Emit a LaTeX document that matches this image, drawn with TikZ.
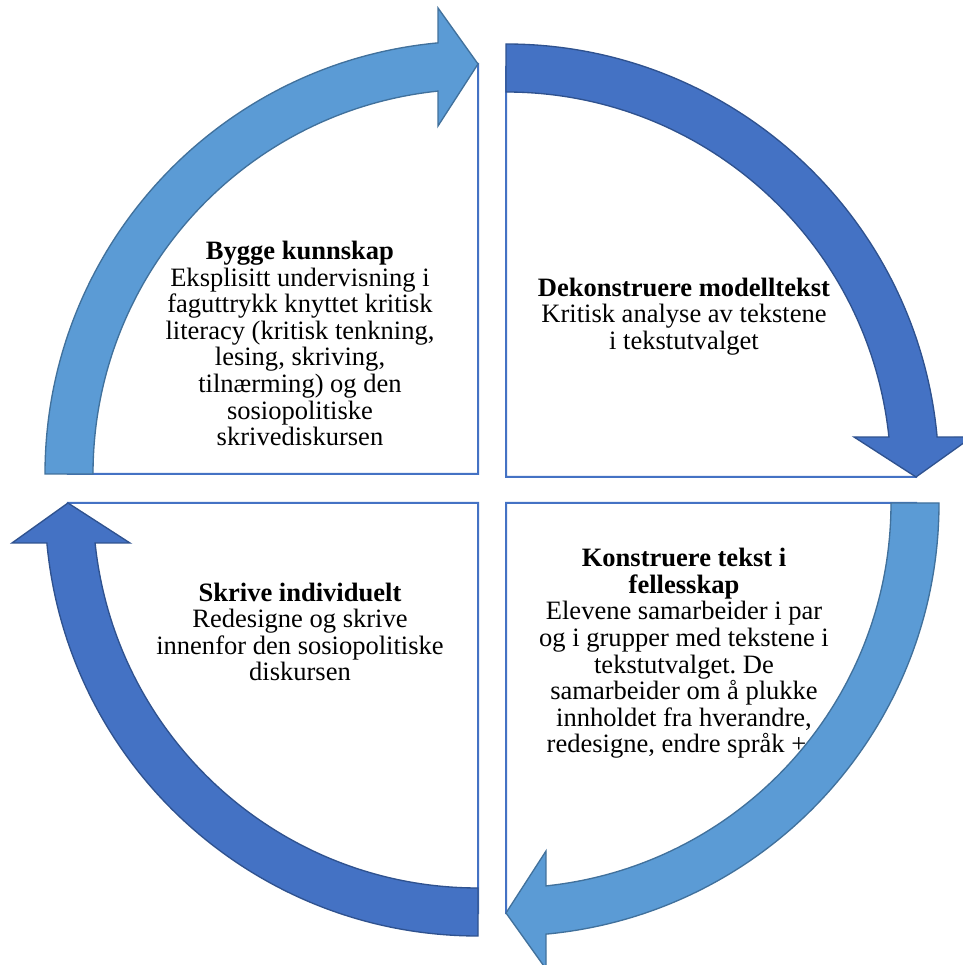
\documentclass[tikz,border=0pt]{standalone}
\usepackage{fontspec}
\setmainfont{Liberation Serif}
\frenchspacing
\definecolor{boxline}{RGB}{68,114,196}
\definecolor{lightfill}{RGB}{91,155,213}
\definecolor{lightedge}{RGB}{65,113,156}
\definecolor{darkfill}{RGB}{68,114,196}
\definecolor{darkedge}{RGB}{47,82,143}
\tikzset{
  piebox/.style={draw=boxline, line width=1.5pt, fill=white},
  lightarrow/.style={fill=lightfill, draw=lightedge, line width=1pt, line join=miter},
  darkarrow/.style={fill=darkfill, draw=darkedge, line width=1pt, line join=miter},
  txt/.style={align=center, inner sep=0pt, font=\fontsize{19.9pt}{19.95pt}\selectfont}
}
\newcommand\quarterbox[2]{%
  \begin{scope}[shift={#1}, rotate=#2]
    \path[piebox] (0,0) -- (-410,0) arc[start angle=180, end angle=90, radius=410] -- cycle;
  \end{scope}}
\newcommand\cyclearrow[3]{%
  \begin{scope}[shift={#1}, rotate=#2]
    \path[#3] (180:385) -- (180:433) arc[start angle=180, end angle=95.30, radius=433]
      -- (-40,466) -- (0,410) -- (-40,348) -- (95.96:385)
      arc[start angle=95.96, end angle=180, radius=385] -- cycle;
  \end{scope}}
\begin{document}
\begin{tikzpicture}[x=0.75pt, y=0.75pt]
  \clip (0,0) rectangle (963,965);
  \fill[white] (0,0) rectangle (963,965);
  % quarter boxes
  \quarterbox{(478,491)}{0}
  \quarterbox{(506,488)}{-90}
  \quarterbox{(506,462)}{-180}
  \quarterbox{(478,462)}{90}
  % texts
  \node[txt] (bygge) at (300,621.5) {\textbf{Bygge kunnskap}\\Eksplisitt undervisning i\\faguttrykk knyttet kritisk\\literacy (kritisk tenkning,\\lesing, skriving,\\tilnærming) og den\\sosiopolitiske\\skrivediskursen};
  \node[txt] (dekon) at (684,648.6) {\textbf{Dekonstruere modelltekst}\\Kritisk analyse av tekstene\\i tekstutvalget};
  \node[txt] (skrive) at (300,333) {\textbf{Skrive individuelt}\\Redesigne og skrive\\innenfor den sosiopolitiske\\diskursen};
  \node[txt] (konstr) at (684,311.5) {\textbf{Konstruere tekst i}\\\textbf{fellesskap}\\Elevene samarbeider i par\\og i grupper med tekstene i\\tekstutvalget. De\\samarbeider om å plukke\\innholdet fra hverandre,\\redesigne, endre språk ++};
  % arrows
  \cyclearrow{(478,491)}{0}{lightarrow}
  \cyclearrow{(506,488)}{-90}{darkarrow}
  \cyclearrow{(506,462)}{-180}{lightarrow}
  \cyclearrow{(478,462)}{90}{darkarrow}
\end{tikzpicture}
\end{document}
